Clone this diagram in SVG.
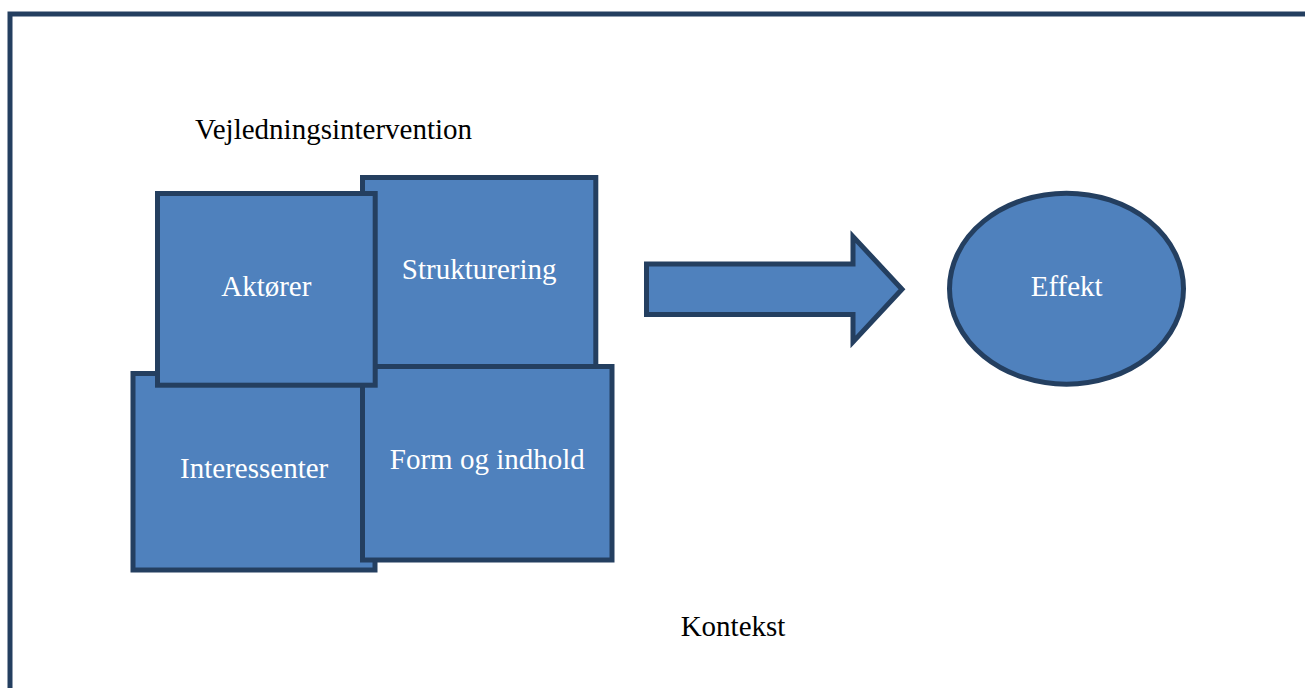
<svg xmlns="http://www.w3.org/2000/svg" width="1305" height="688" viewBox="0 0 1305 688">
  <style>
    .shape { fill: #4F81BD; stroke: #243F60; stroke-width: 5; }
    .lbl { font-family: "Liberation Serif", "Times New Roman", serif; font-size: 29px; fill: #FFFFFF; text-anchor: middle; }
    .txt { font-family: "Liberation Serif", "Times New Roman", serif; font-size: 29px; fill: #000000; }
  </style>
  <rect width="1305" height="688" fill="#FFFFFF"/>
  <g id="frame">
    <rect x="10" y="14" width="1310" height="700" fill="none" stroke="#243F60" stroke-width="5"/>
  </g>
  <g id="title">
    <text class="txt" x="195" y="139">Vejledningsintervention</text>
  </g>
  <g id="strukturering">
    <rect class="shape" x="362.5" y="177.5" width="233.3" height="190"/>
    <text class="lbl" x="479.2" y="279.3">Strukturering</text>
  </g>
  <g id="interessenter">
    <rect class="shape" x="133" y="373.5" width="242" height="196.5"/>
    <text class="lbl" x="254.2" y="478.3">Interessenter</text>
  </g>
  <g id="form-og-indhold">
    <rect class="shape" x="362.5" y="366.5" width="249.5" height="193.5"/>
    <text class="lbl" x="487.3" y="469">Form og indhold</text>
  </g>
  <g id="aktorer">
    <rect class="shape" x="157.5" y="193.5" width="217.7" height="191.7"/>
    <text class="lbl" x="266.3" y="296">Aktører</text>
  </g>
  <g id="connectors">
    <polygon class="shape" points="646.5,264 853,264 853,236.5 902,289.3 853,342 853,314.5 646.5,314.5"/>
  </g>
  <g id="effekt">
    <ellipse class="shape" cx="1066.5" cy="288.7" rx="117" ry="95.5"/>
    <text class="lbl" x="1066.7" y="296">Effekt</text>
  </g>
  <g id="kontekst">
    <text class="txt" x="733" y="636" text-anchor="middle">Kontekst</text>
  </g>
</svg>
